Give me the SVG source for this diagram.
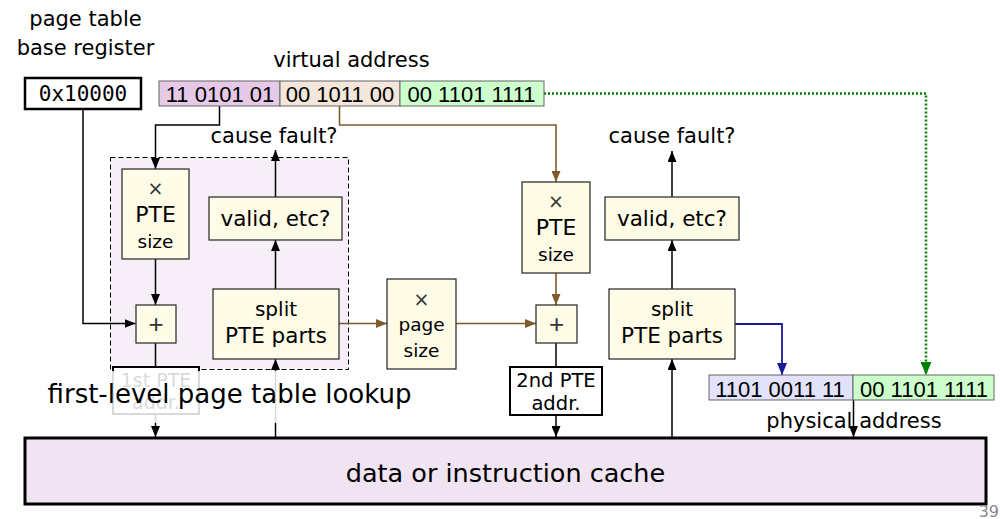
<svg xmlns="http://www.w3.org/2000/svg" width="1000" height="519" viewBox="0 0 1000 519">
<defs>
<style>
text{font-family:"DejaVu Sans","Noto Sans",sans-serif;fill:#000}
.c{text-anchor:middle}
.t21{font-size:21px}
.box{fill:#fefbe6;stroke:#333;stroke-width:1.3}
.addr{fill:#fff;stroke:#000;stroke-width:2}
.bits{font-family:"Liberation Sans",Arial,sans-serif;font-size:22px}
.bar{stroke:#666;stroke-width:1}
.k{fill:none;stroke:#000;stroke-width:1.5}
.br{fill:none;stroke:#7f5a2b;stroke-width:1.6}
.bl{fill:none;stroke:#1a1a99;stroke-width:1.8}
.gr{fill:none;stroke:#008000;stroke-width:2.5;stroke-dasharray:2 2}
.plus{font-family:"Liberation Sans",Arial,sans-serif;font-size:26px;fill:#333}
</style>
<marker id="ak" markerUnits="userSpaceOnUse" markerWidth="11" markerHeight="9" refX="11" refY="4.5" orient="auto"><path d="M0,0 L11,4.5 L0,9 Z" fill="#000"/></marker>
<marker id="abr" markerUnits="userSpaceOnUse" markerWidth="11" markerHeight="9" refX="11" refY="4.5" orient="auto"><path d="M0,0 L11,4.5 L0,9 Z" fill="#7f5a2b"/></marker>
<marker id="abl" markerUnits="userSpaceOnUse" markerWidth="12" markerHeight="10" refX="12" refY="5" orient="auto"><path d="M0,0 L12,5 L0,10 Z" fill="#1a1a99"/></marker>
<marker id="agr" markerUnits="userSpaceOnUse" markerWidth="13" markerHeight="11" refX="13" refY="5.5" orient="auto"><path d="M0,0 L13,5.5 L0,11 Z" fill="#008000"/></marker>
</defs>
<rect width="1000" height="519" fill="#fff"/>

<g id="region-first-level">
<rect x="110.5" y="157.5" width="238" height="212" fill="#f6eff8" stroke="#000" stroke-width="1" stroke-dasharray="5 3"/>
</g>

<g id="connectors">
<path class="k" d="M83,109 V323.5 H135.5" marker-end="url(#ak)"/>
<path class="k" d="M219.5,106 V125 H155.5 V169" marker-end="url(#ak)"/>
<path class="k" d="M155.5,259 V305" marker-end="url(#ak)"/>
<path class="k" d="M155.5,343 V367"/>
<path class="k" d="M155.5,414 V437" marker-end="url(#ak)"/>
<path class="k" d="M275.5,437 V359" marker-end="url(#ak)"/>
<path class="k" d="M275.5,289 V240" marker-end="url(#ak)"/>
<path class="k" d="M275.5,197 V150" marker-end="url(#ak)"/>
<path class="br" d="M339,323.5 H387" marker-end="url(#abr)"/>
<path class="br" d="M456,323.5 H536" marker-end="url(#abr)"/>
<path class="br" d="M339.5,106 V125 H556 V182" marker-end="url(#abr)"/>
<path class="br" d="M556,273 V305" marker-end="url(#abr)"/>
<path class="k" d="M556,343 V367"/>
<path class="k" d="M556,415 V437" marker-end="url(#ak)"/>
<path class="k" d="M672,437 V359" marker-end="url(#ak)"/>
<path class="k" d="M672,289 V240" marker-end="url(#ak)"/>
<path class="k" d="M672,197 V151" marker-end="url(#ak)"/>
<path class="bl" d="M735,324 H782 V375" marker-end="url(#abl)"/>
<path class="gr" d="M544,93.5 H926 V375" marker-end="url(#agr)"/>
<path class="k" d="M853.5,400 V437" marker-end="url(#ak)"/>
</g>

<g id="ptbr-label">
<text class="c t21" x="85.5" y="26">page table</text>
<text class="c t21" x="85.5" y="55">base register</text>
</g>
<g id="ptbr">
<rect x="25" y="78" width="116" height="31" fill="#fff" stroke="#000" stroke-width="2.5"/>
<text class="c" x="83" y="101" style="font-family:'DejaVu Sans Mono','Liberation Mono',monospace;font-size:21px">0x10000</text>
</g>

<g id="virtual-address">
<text class="c t21" x="351.5" y="67">virtual address</text>
<rect class="bar" x="159" y="81" width="121" height="25" fill="#e5c9e6"/>
<rect class="bar" x="280" y="81" width="120" height="25" fill="#f3e6da"/>
<rect class="bar" x="400" y="81" width="144" height="25" fill="#ccffcc"/>
<text class="c bits" x="220" y="101.5">11 0101 01</text>
<text class="c bits" x="340" y="101.5">00 1011 00</text>
<text class="c bits" x="471.5" y="101.5">00 1101 1111</text>
</g>

<g id="cause-fault-1"><text class="c t21" x="274" y="143">cause fault?</text></g>
<g id="cause-fault-2"><text class="c t21" x="672" y="143">cause fault?</text></g>

<g id="mul-pte-size-1">
<rect class="box" x="122" y="169" width="67" height="90"/>
<text class="c" x="155.5" y="195" style="font-size:19px;fill:#333">×</text>
<text class="c" x="155.5" y="222" style="font-size:22px">PTE</text>
<text class="c" x="155.5" y="248" style="font-size:18.5px">size</text>
</g>
<g id="add-1">
<rect class="box" x="136" y="305" width="40" height="38"/>
<text class="c plus" x="156" y="333">+</text>
</g>
<g id="pte-addr-1">
<rect class="addr" x="113" y="367" width="86" height="47"/>
<text class="c" x="156" y="387" style="font-size:19px">1st PTE</text>
<text class="c" x="156" y="409" style="font-size:19px">addr.</text>
</g>
<g id="valid-1">
<rect class="box" x="209" y="197" width="133" height="43"/>
<text class="c" x="275.5" y="226" style="font-size:21.5px">valid, etc?</text>
</g>
<g id="split-1">
<rect class="box" x="213" y="289" width="126" height="70"/>
<text class="c" x="276" y="316" style="font-size:20px">split</text>
<text class="c" x="276" y="343" style="font-size:21.5px">PTE parts</text>
</g>
<g id="mul-page-size">
<rect class="box" x="387" y="279" width="69" height="90"/>
<text class="c" x="421.5" y="306" style="font-size:19px;fill:#333">×</text>
<text class="c" x="421.5" y="331" style="font-size:18.5px">page</text>
<text class="c" x="421.5" y="357" style="font-size:18.5px">size</text>
</g>
<g id="mul-pte-size-2">
<rect class="box" x="522" y="182" width="68" height="91"/>
<text class="c" x="556" y="208" style="font-size:19px;fill:#333">×</text>
<text class="c" x="556" y="235" style="font-size:22px">PTE</text>
<text class="c" x="556" y="261" style="font-size:18.5px">size</text>
</g>
<g id="add-2">
<rect class="box" x="536" y="305" width="41" height="38"/>
<text class="c plus" x="556.5" y="333">+</text>
</g>
<g id="pte-addr-2">
<rect class="addr" x="510" y="367" width="92" height="48"/>
<text class="c" x="556" y="387" style="font-size:19.5px">2nd PTE</text>
<text class="c" x="556" y="410" style="font-size:19.5px">addr.</text>
</g>
<g id="valid-2">
<rect class="box" x="605" y="197" width="134" height="43"/>
<text class="c" x="672" y="226" style="font-size:21.5px">valid, etc?</text>
</g>
<g id="split-2">
<rect class="box" x="609" y="289" width="126" height="70"/>
<text class="c" x="672" y="316" style="font-size:20px">split</text>
<text class="c" x="672" y="343" style="font-size:21.5px">PTE parts</text>
</g>

<g id="physical-address">
<rect class="bar" x="709" y="375" width="144" height="25" fill="#e2e2fa"/>
<rect class="bar" x="853" y="375" width="141" height="25" fill="#ccffcc"/>
<text class="c bits" x="780" y="396.5">1101 0011 11</text>
<text class="c bits" x="924" y="396.5">00 1101 1111</text>
<text class="c t21" x="854" y="428">physical address</text>
</g>

<g id="first-level-label">
<rect x="40" y="371" width="380" height="52" fill="#fff" fill-opacity="0.85"/>
<text class="c" x="229.5" y="403" style="font-size:26px">first-level page table lookup</text>
</g>

<g id="cache">
<rect x="25" y="438" width="961" height="66" fill="#f0e4f2" stroke="#000" stroke-width="3"/>
<text class="c" x="505.5" y="482" style="font-size:25.5px">data or instruction cache</text>
</g>

<text x="999" y="517" text-anchor="end" style="font-size:16px;fill:#888">39</text>
</svg>
